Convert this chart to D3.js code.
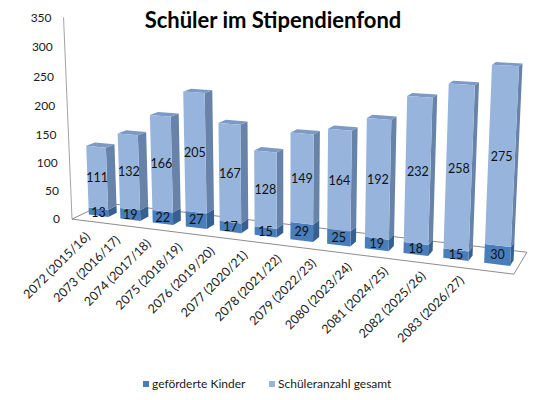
<!DOCTYPE html>
<html>
<head>
<meta charset="UTF-8">
<script src="https://cdnjs.cloudflare.com/ajax/libs/d3/7.8.5/d3.min.js"></script>
<style>
  body { margin: 0; background: #fff; }
  svg text { font-family: Lato, "Open Sans", sans-serif; }
</style>
</head>
<body>
<svg id="chart" width="544" height="400"></svg>
<script>
// data
var categories = ["2072 (2015/16)", "2073 (2016/17)", "2074 (2017/18)", "2075 (2018/19)",
  "2076 (2019/20)", "2077 (2020/21)", "2078 (2021/22)", "2079 (2022/23)",
  "2080 (2023/24)", "2081 (2024/25)", "2082 (2025/26)", "2083 (2026/27)"];
var gefoerdert = [13, 19, 22, 27, 17, 15, 29, 25, 19, 18, 15, 30];
var gesamt = [111, 132, 166, 205, 167, 128, 149, 164, 192, 232, 258, 275];
var yTicks = [0, 50, 100, 150, 200, 250, 300, 350];
var seriesNames = ["geförderte Kinder", "Schüleranzahl gesamt"];

// colours per series: front, side, top
var shades = [
  { front: "#4a7ebb", side: "#35608f", top: "#41709f" },
  { front: "#97b5dc", side: "#6883aa", top: "#7c9ac4" }
];

// 3d box: x in category units, y in world height, z depth (front = 0)
var W = 12, H = 5.5, D = 1.75;
var barZ0 = 0.55, barZ1 = 1.0;
var cam = { beta: 22, alpha: 12, dist: 27.7, f: 1096, ox: 285, oy: 133, target: [6, 2.75, 0.65] };

var x = d3.scaleBand().domain(categories).range([0, W]).paddingInner(0.38).paddingOuter(0.19);
var y = d3.scaleLinear().domain([0, 350]).range([0, H]);

function project(p) {
  var b = cam.beta * Math.PI / 180, a = cam.alpha * Math.PI / 180;
  var px = p[0] - cam.target[0], py = p[1] - cam.target[1], pz = p[2] - cam.target[2];
  var x1 = px * Math.cos(b) + pz * Math.sin(b);
  var z1 = pz * Math.cos(b) - px * Math.sin(b);
  var yc = py * Math.cos(a) + z1 * Math.sin(a);
  var zc = z1 * Math.cos(a) - py * Math.sin(a) + cam.dist;
  return [cam.ox + cam.f * x1 / zc, cam.oy - cam.f * yc / zc];
}

var line = d3.line().x(function(d) { return d[0]; }).y(function(d) { return d[1]; }).curve(d3.curveLinearClosed);
function face(pts) { return line(pts.map(project)); }

var svg = d3.select("#chart");

// floor
svg.append("path")
  .attr("d", face([[0, 0, 0], [W, 0, 0], [W, 0, D], [0, 0, D]]))
  .attr("fill", "none").attr("stroke", "#6e6e6e").attr("stroke-width", 0.8);

// value axis line on the front-left edge
var a0 = project([0, y(0), 0]), a1 = project([0, y(350), 0]);
svg.append("line")
  .attr("x1", a0[0]).attr("y1", a0[1]).attr("x2", a1[0]).attr("y2", a1[1])
  .attr("stroke", "#8c8c8c").attr("stroke-width", 0.8);

svg.append("g").selectAll("text").data(yTicks).join("text")
  .attr("x", function(d) { return project([0, y(d), 0])[0] - 12; })
  .attr("y", function(d) { return project([0, y(d), 0])[1]; })
  .attr("dy", "0.35em")
  .attr("text-anchor", "end")
  .attr("font-size", 12).attr("fill", "#1a1a1a")
  .text(function(d) { return d; });

// stacked segments
var segs = [];
categories.forEach(function(c, i) {
  var base = 0;
  [gefoerdert[i], gesamt[i]].forEach(function(v, s) {
    segs.push({ cat: c, s: s, v: v, y0: base, y1: base + v, last: s === 1 });
    base += v;
  });
});

var bars = svg.append("g");
segs.forEach(function(d) {
  var x0 = x(d.cat), x1 = x0 + x.bandwidth();
  var b = y(d.y0), t = y(d.y1);
  var g = bars.append("g");
  g.append("path").attr("d", face([[x1, b, barZ0], [x1, b, barZ1], [x1, t, barZ1], [x1, t, barZ0]]))
    .attr("fill", shades[d.s].side);
  if (d.last) {
    g.append("path").attr("d", face([[x0, t, barZ0], [x1, t, barZ0], [x1, t, barZ1], [x0, t, barZ1]]))
      .attr("fill", shades[d.s].top);
  }
  g.append("path").attr("d", face([[x0, b, barZ0], [x1, b, barZ0], [x1, t, barZ0], [x0, t, barZ0]]))
    .attr("fill", shades[d.s].front);
});

// value labels
svg.append("g").selectAll("text").data(segs).join("text")
  .attr("x", function(d) { return project([x(d.cat) + x.bandwidth() / 2, y((d.y0 + d.y1) / 2), barZ0])[0]; })
  .attr("y", function(d) { return project([x(d.cat) + x.bandwidth() / 2, y((d.y0 + d.y1) / 2), barZ0])[1]; })
  .attr("dy", "0.35em")
  .attr("text-anchor", "middle")
  .attr("font-size", 12.5).attr("fill", "#111")
  .text(function(d) { return d.v; });

// category labels, hung from the back edge of the floor
svg.append("g").selectAll("text").data(categories).join("text")
  .attr("transform", function(d) {
    var p = project([x(d) + x.bandwidth() / 2 - 1.26, 0, D]);
    return "translate(" + (p[0] + 8) + "," + (p[1] + 37) + ") rotate(-45)";
  })
  .attr("text-anchor", "end")
  .attr("font-size", 12.5).attr("fill", "#1a1a1a")
  .text(function(d) { return d; });

// title
svg.append("text")
  .attr("x", 273).attr("y", 28)
  .attr("text-anchor", "middle")
  .attr("font-size", 22).attr("font-weight", "bold").attr("fill", "#000")
  .text("Schüler im Stipendienfond");

// legend
var legend = svg.append("g").attr("transform", "translate(143,381)");
var li = legend.selectAll("g").data(seriesNames).join("g")
  .attr("transform", function(d, i) { return "translate(" + (i * 126) + ",0)"; });
li.append("rect").attr("width", 6).attr("height", 6)
  .attr("fill", function(d, i) { return shades[i].front; });
li.append("text").attr("x", 9).attr("y", 7)
  .attr("font-size", 12).attr("fill", "#1a1a1a")
  .text(function(d) { return d; });
</script>
</body>
</html>
